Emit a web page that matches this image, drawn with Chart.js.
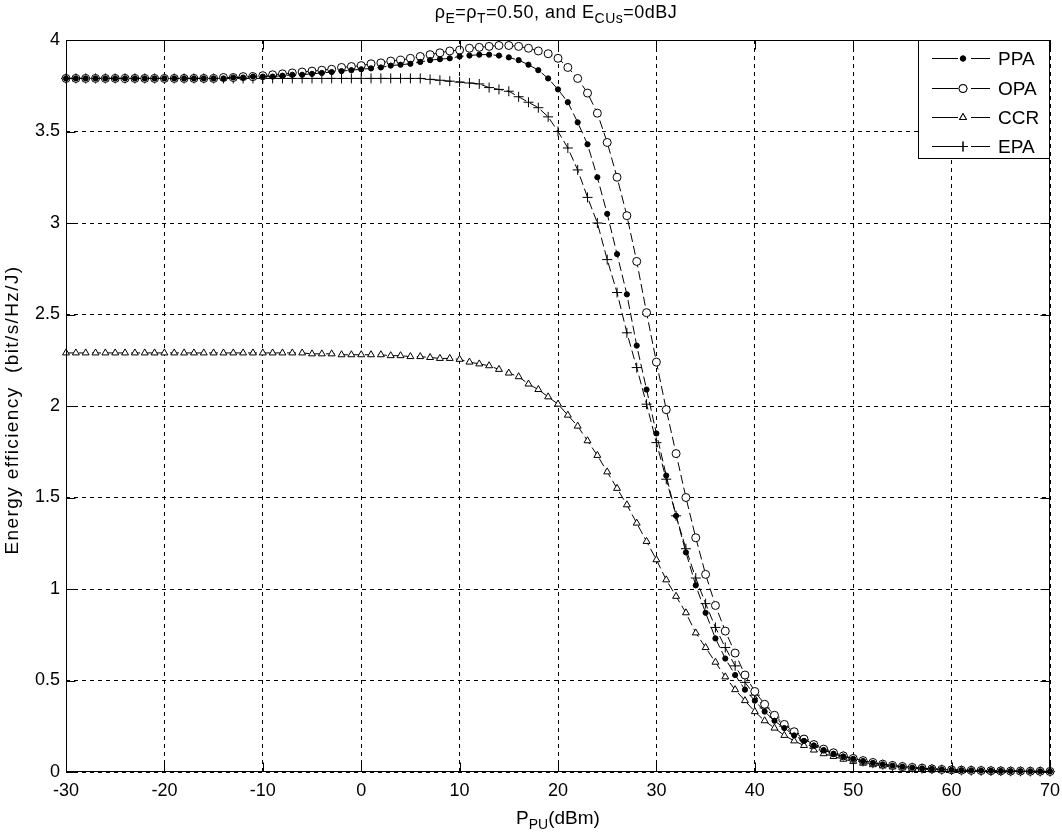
<!DOCTYPE html>
<html lang="en">
<head>
<meta charset="UTF-8">
<title>Energy efficiency vs P_PU</title>
<script src="https://cdn.jsdelivr.net/npm/chart.js"></script>
<style>
  html, body { margin: 0; padding: 0; background: #fff; }
  #wrap { width: 1062px; height: 834px; }
</style>
</head>
<body>
<div id="wrap"><canvas id="eeChart" width="1062" height="834"></canvas></div>
<script>
// P_PU (dBm), one point every dB
const pPU = [
  -30, -29, -28, -27, -26, -25, -24, -23, -22, -21,
  -20, -19, -18, -17, -16, -15, -14, -13, -12, -11,
  -10, -9, -8, -7, -6, -5, -4, -3, -2, -1,
  0, 1, 2, 3, 4, 5, 6, 7, 8, 9,
  10, 11, 12, 13, 14, 15, 16, 17, 18, 19,
  20, 21, 22, 23, 24, 25, 26, 27, 28, 29,
  30, 31, 32, 33, 34, 35, 36, 37, 38, 39,
  40, 41, 42, 43, 44, 45, 46, 47, 48, 49,
  50, 51, 52, 53, 54, 55, 56, 57, 58, 59,
  60, 61, 62, 63, 64, 65, 66, 67, 68, 69,
  70
];

const ppa = [
  3.79, 3.79, 3.79, 3.79, 3.79, 3.79, 3.79, 3.79, 3.79, 3.79,
  3.79, 3.79, 3.79, 3.79, 3.79, 3.79, 3.79, 3.795, 3.795, 3.80,
  3.80, 3.80, 3.805, 3.81, 3.81, 3.815, 3.82, 3.825, 3.83, 3.835,
  3.84, 3.845, 3.85, 3.86, 3.865, 3.87, 3.88, 3.89, 3.895, 3.90,
  3.91, 3.915, 3.92, 3.92, 3.915, 3.905, 3.89, 3.865, 3.835, 3.79,
  3.73, 3.66, 3.55, 3.43, 3.25, 3.05, 2.83, 2.61, 2.33, 2.09,
  1.85, 1.62, 1.40, 1.20, 1.02, 0.87, 0.73, 0.62, 0.53, 0.45,
  0.39, 0.33, 0.28, 0.24, 0.20, 0.17, 0.145, 0.12, 0.10, 0.085,
  0.072, 0.06, 0.05, 0.042, 0.035, 0.029, 0.024, 0.02, 0.017, 0.014,
  0.012, 0.01, 0.009, 0.008, 0.007, 0.006, 0.005, 0.005, 0.004, 0.004,
  0.003
];

const opa = [
  3.79, 3.79, 3.79, 3.79, 3.79, 3.79, 3.79, 3.79, 3.79, 3.79,
  3.79, 3.79, 3.79, 3.79, 3.79, 3.79, 3.795, 3.795, 3.80, 3.80,
  3.805, 3.81, 3.815, 3.82, 3.825, 3.83, 3.835, 3.84, 3.85, 3.855,
  3.86, 3.87, 3.875, 3.885, 3.89, 3.90, 3.91, 3.92, 3.93, 3.94,
  3.945, 3.955, 3.96, 3.965, 3.97, 3.97, 3.965, 3.955, 3.94, 3.925,
  3.90, 3.85, 3.79, 3.71, 3.60, 3.44, 3.25, 3.04, 2.79, 2.51,
  2.24, 1.98, 1.74, 1.50, 1.28, 1.08, 0.91, 0.77, 0.65, 0.53,
  0.44, 0.37, 0.31, 0.26, 0.22, 0.18, 0.15, 0.125, 0.105, 0.088,
  0.074, 0.062, 0.052, 0.043, 0.036, 0.03, 0.025, 0.021, 0.017, 0.014,
  0.012, 0.01, 0.009, 0.008, 0.007, 0.006, 0.005, 0.005, 0.004, 0.004,
  0.003
];

const ccr = [
  2.29, 2.29, 2.29, 2.29, 2.29, 2.29, 2.29, 2.29, 2.29, 2.29,
  2.29, 2.29, 2.29, 2.29, 2.29, 2.29, 2.29, 2.29, 2.29, 2.29,
  2.29, 2.29, 2.29, 2.29, 2.29, 2.285, 2.285, 2.285, 2.28, 2.28,
  2.28, 2.28, 2.28, 2.275, 2.275, 2.27, 2.27, 2.265, 2.26, 2.26,
  2.255, 2.24, 2.23, 2.22, 2.20, 2.18, 2.16, 2.12, 2.09, 2.05,
  2.01, 1.95, 1.89, 1.81, 1.73, 1.64, 1.55, 1.46, 1.36, 1.26,
  1.16, 1.05, 0.96, 0.87, 0.76, 0.68, 0.60, 0.52, 0.45, 0.39,
  0.33, 0.28, 0.24, 0.20, 0.17, 0.145, 0.12, 0.10, 0.085, 0.07,
  0.058, 0.048, 0.04, 0.033, 0.028, 0.023, 0.019, 0.016, 0.013, 0.011,
  0.009, 0.008, 0.007, 0.006, 0.005, 0.004, 0.004, 0.003, 0.003, 0.002,
  0.002
];

const epa = [
  3.79, 3.79, 3.79, 3.79, 3.79, 3.79, 3.79, 3.79, 3.79, 3.79,
  3.79, 3.79, 3.79, 3.79, 3.79, 3.79, 3.79, 3.79, 3.79, 3.79,
  3.79, 3.79, 3.79, 3.79, 3.79, 3.79, 3.79, 3.79, 3.79, 3.79,
  3.79, 3.79, 3.79, 3.79, 3.79, 3.79, 3.79, 3.785, 3.78, 3.775,
  3.77, 3.765, 3.76, 3.74, 3.73, 3.72, 3.69, 3.66, 3.63, 3.58,
  3.50, 3.41, 3.29, 3.14, 3.00, 2.80, 2.62, 2.40, 2.21, 2.01,
  1.80, 1.60, 1.40, 1.22, 1.06, 0.92, 0.79, 0.68, 0.58, 0.49,
  0.42, 0.35, 0.30, 0.25, 0.21, 0.175, 0.145, 0.12, 0.10, 0.085,
  0.07, 0.058, 0.048, 0.04, 0.033, 0.028, 0.023, 0.019, 0.016, 0.013,
  0.011, 0.009, 0.008, 0.007, 0.006, 0.005, 0.004, 0.004, 0.003, 0.003,
  0.002
];

const seriesNames = ['PPA', 'OPA', 'CCR', 'EPA'];
const xTicks = [-30, -20, -10, 0, 10, 20, 30, 40, 50, 60, 70];
const yTicks = [0, 0.5, 1, 1.5, 2, 2.5, 3, 3.5, 4];
const yTickLabels = ['0', '0.5', '1', '1.5', '2', '2.5', '3', '3.5', '4'];

const FONT = '"Liberation Sans", Arial, sans-serif';
Chart.defaults.font.family = FONT;
Chart.defaults.font.size = 18;
Chart.defaults.color = '#000';

const pts = arr => arr.map((v, i) => ({ x: pPU[i], y: v }));

// marker looks per curve
const looks = [
  { pointStyle: 'circle', pointRadius: 2.6, pointBackgroundColor: '#000' },
  { pointStyle: 'circle', pointRadius: 4, pointBackgroundColor: '#fff' },
  { pointStyle: 'triangle', pointRadius: 4, pointBackgroundColor: '#fff' },
  { pointStyle: 'cross', pointRadius: 5, pointBackgroundColor: '#fff' }
];

function makeSet(name, arr, look) {
  return Object.assign({
    label: name,
    data: pts(arr),
    borderColor: '#000',
    borderWidth: 1,
    borderDash: [9, 4],
    pointBorderColor: '#000',
    pointBorderWidth: 1,
    fill: false,
    tension: 0,
    clip: 8
  }, look);
}

// text with subscripts, drawn as canvas text
function drawSubText(ctx, parts, cx, baseline, size, spacing) {
  const subSize = Math.round(size * 0.75);
  ctx.letterSpacing = (spacing || 0) + 'px';
  let total = 0;
  parts.forEach(p => {
    ctx.font = (p.sub ? subSize : size) + 'px ' + FONT;
    total += ctx.measureText(p.t).width;
  });
  let x = cx - total / 2;
  ctx.textAlign = 'left';
  ctx.textBaseline = 'alphabetic';
  parts.forEach(p => {
    ctx.font = (p.sub ? subSize : size) + 'px ' + FONT;
    ctx.fillText(p.t, x, baseline + (p.sub ? 5 : 0));
    x += ctx.measureText(p.t).width;
  });
  ctx.letterSpacing = '0px';
}

const decorations = {
  id: 'decorations',
  afterDatasetsDraw(chart) {
    const { ctx, chartArea: a, scales: { x, y } } = chart;
    ctx.save();
    ctx.strokeStyle = '#000';
    ctx.lineWidth = 1;
    ctx.setLineDash([]);
    const L = Math.round(a.left) + 0.5, R = Math.round(a.right) - 0.5;
    const T = Math.round(a.top) + 0.5, B = Math.round(a.bottom) - 0.5;
    ctx.strokeRect(L, T, R - L, B - T);
    ctx.beginPath();
    xTicks.forEach(v => {
      const px = Math.round(x.getPixelForValue(v)) + 0.5;
      ctx.moveTo(px, B); ctx.lineTo(px, B - 9);
      ctx.moveTo(px, T); ctx.lineTo(px, T + 9);
    });
    yTicks.forEach(v => {
      const py = Math.round(y.getPixelForValue(v)) + 0.5;
      ctx.moveTo(L, py); ctx.lineTo(L + 9, py);
      ctx.moveTo(R, py); ctx.lineTo(R - 9, py);
    });
    ctx.stroke();
    ctx.restore();
  },
  afterDraw(chart) {
    const { ctx, chartArea: a } = chart;
    ctx.save();
    ctx.fillStyle = '#000';
    // title
    drawSubText(ctx, [
      { t: 'ρ' }, { t: 'E', sub: true }, { t: '=ρ' }, { t: 'T', sub: true },
      { t: '=0.50, and E' }, { t: 'CUs', sub: true }, { t: '=0dBJ' }
    ], 556, 18, 18, 0.5);
    // x axis label
    drawSubText(ctx, [{ t: 'P' }, { t: 'PU', sub: true }, { t: '(dBm)' }],
      (a.left + a.right) / 2, 824, 19, 0);
    // y axis label
    ctx.translate(18, (a.top + a.bottom) / 2 + 4);
    ctx.rotate(-Math.PI / 2);
    ctx.font = '19px ' + FONT;
    ctx.letterSpacing = '1.4px';
    ctx.textAlign = 'center';
    ctx.textBaseline = 'alphabetic';
    ctx.fillText('Energy efficiency  (bit/s/Hz/J)', 0, 0);
    ctx.letterSpacing = '0px';
    ctx.setTransform(1, 0, 0, 1, 0, 0);

    // legend box in the upper right corner
    const bx = 918.5, by = Math.round(a.top) + 0.5, bw = Math.round(a.right) - 0.5 - bx, bh = 118;
    ctx.fillStyle = '#fff';
    ctx.fillRect(bx, by, bw, bh);
    ctx.strokeStyle = '#000';
    ctx.lineWidth = 1;
    ctx.strokeRect(bx, by, bw, bh);
    const rows = [58, 88, 117, 146];
    chart.data.datasets.forEach((ds, i) => {
      const ry = rows[i] + 0.5;
      ctx.strokeStyle = '#000';
      ctx.lineWidth = 1;
      ctx.beginPath();
      ctx.moveTo(932, ry); ctx.lineTo(958, ry);
      ctx.moveTo(971, ry); ctx.lineTo(990, ry);
      ctx.stroke();
      Chart.helpers.drawPoint(ctx, {
        pointStyle: ds.pointStyle, radius: ds.pointRadius, borderWidth: 1, rotation: 0
      }, 963, ry);
      ctx.fillStyle = ds.pointBackgroundColor;
      ctx.fill();
      ctx.stroke();
      ctx.fillStyle = '#000';
      ctx.font = '19px ' + FONT;
      ctx.textAlign = 'left';
      ctx.textBaseline = 'middle';
      ctx.fillText(ds.label, 998, ry + 1);
    });
    ctx.restore();
  }
};

new Chart(document.getElementById('eeChart').getContext('2d'), {
  type: 'line',
  data: {
    datasets: [
      makeSet(seriesNames[0], ppa, looks[0]),
      makeSet(seriesNames[1], opa, looks[1]),
      makeSet(seriesNames[2], ccr, looks[2]),
      makeSet(seriesNames[3], epa, looks[3])
    ]
  },
  options: {
    responsive: false,
    animation: false,
    layout: { padding: { top: 40, right: 12, left: 0, bottom: 0 } },
    plugins: {
      legend: { display: false },
      title: { display: false },
      tooltip: { enabled: false }
    },
    scales: {
      x: {
        type: 'linear',
        min: -30,
        max: 70,
        afterBuildTicks: s => { s.ticks = xTicks.map(v => ({ value: v })); },
        afterFit: s => { s.height = 62; s.paddingLeft = 0; s.paddingRight = 0; },
        ticks: { padding: 8, maxRotation: 0, color: '#000' },
        grid: { color: '#000', lineWidth: 1, drawTicks: false },
        border: { display: false, dash: [4, 4] }
      },
      y: {
        type: 'linear',
        min: 0,
        max: 4,
        afterBuildTicks: s => { s.ticks = yTicks.map(v => ({ value: v })); },
        afterFit: s => { s.width = 66; s.paddingTop = 0; s.paddingBottom = 0; },
        ticks: {
          padding: 6,
          color: '#000',
          callback: v => yTickLabels[yTicks.indexOf(v)]
        },
        grid: { color: '#000', lineWidth: 1, drawTicks: false },
        border: { display: false, dash: [4, 4] }
      }
    }
  },
  plugins: [decorations]
});
</script>
</body>
</html>
